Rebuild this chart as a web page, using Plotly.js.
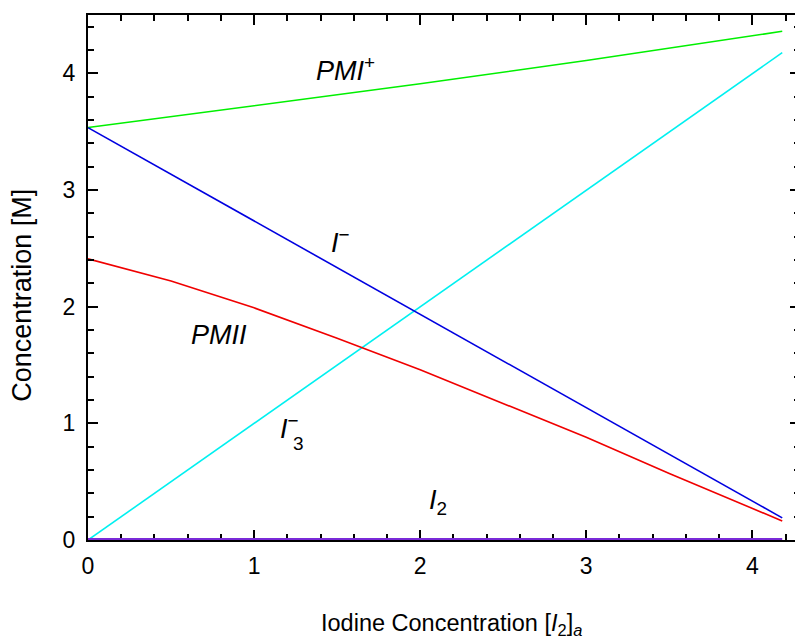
<!DOCTYPE html>
<html>
<head>
<meta charset="utf-8">
<script src="https://cdn.plot.ly/plotly-3.0.1.min.js"></script>
<style>
html,body{margin:0;padding:0;overflow:hidden;background:#fff;}
#chart{width:810px;height:639px;}
</style>
</head>
<body>
<div id="chart"></div>
<script>
// Data
const xLinear = [0, 1, 2, 3, 4, 4.18];
const xCurve = [0, 0.5, 1, 1.5, 2, 2.5, 3, 3.5, 4, 4.18];

const pmiPlusX = [0, 1, 2, 3, 4, 4.18];
const pmiPlusY = [3.535, 3.72, 3.91, 4.11, 4.32, 4.36];

const iodideY = [3.535, 2.735, 1.935, 1.135, 0.335, 0.19];
const triiodideY = [0, 1, 2, 3, 4, 4.177];
const pmiiY = [2.41, 2.22, 1.99, 1.73, 1.46, 1.17, 0.88, 0.57, 0.27, 0.163];
const iodineY = [0, 0, 0, 0, 0, 0];

const tickStart = 0;
const tickStep = 1;
const minorStep = 0.2;

const xTitle = 'Iodine Concentration [<i>I</i><sub>2</sub>]<sub><i>a</i></sub>';
const yTitle = 'Concentration [M]';

const FONT = 'Arial, "Liberation Sans", sans-serif';

const traces = [
  {x: pmiPlusX, y: pmiPlusY, mode: 'lines', line: {color: '#00f000', width: 1.6}, name: 'PMI+'},
  {x: xLinear, y: triiodideY, mode: 'lines', line: {color: '#00f0f0', width: 1.6}, name: 'I3-'},
  {x: xCurve, y: pmiiY, mode: 'lines', line: {color: '#f00000', width: 1.6}, name: 'PMII'},
  {x: xLinear, y: iodideY, mode: 'lines', line: {color: '#0000e0', width: 1.6}, name: 'I-'},
  {x: xLinear, y: iodineY, mode: 'lines', line: {color: '#7a2ad8', width: 4}, name: 'I2'}
];

const annFont = {family: FONT, size: 27, color: '#000'};
const subFont = {family: FONT, size: 19, color: '#000'};
const annotations = [
  {x: 1.55, y: 4.04, text: '<i>PMI</i><sup>+</sup>', showarrow: false, font: annFont},
  {x: 1.52, y: 2.56, text: '<i>I</i><sup>−</sup>', showarrow: false, font: annFont},
  {x: 0.79, y: 1.756, text: '<i>PMII</i>', showarrow: false, font: annFont},
  {x: 1.215, y: 0.965, text: '<i>I</i><sup>−</sup>', showarrow: false, font: annFont},
  {x: 1.265, y: 0.83, text: '3', showarrow: false, font: subFont},
  {x: 2.11, y: 0.33, text: '<i>I</i><sub>2</sub>', showarrow: false, font: annFont},
  {xref: 'paper', yref: 'paper', x: 0.511, y: -0.160, xanchor: 'center', yanchor: 'middle',
   text: xTitle, showarrow: false, font: {family: FONT, size: 23.5, color: '#000'}},
  {xref: 'paper', yref: 'paper', x: -0.0927, y: 0.467, xanchor: 'center', yanchor: 'middle',
   textangle: -90, text: yTitle, showarrow: false, font: {family: FONT, size: 27, color: '#000'}}
];

const axisCommon = {
  showgrid: false,
  zeroline: false,
  showline: true,
  linecolor: '#000',
  linewidth: 2,
  mirror: 'allticks',
  ticks: 'inside',
  ticklen: 10,
  tickwidth: 2,
  tickcolor: '#000',
  tickmode: 'linear',
  tick0: tickStart,
  dtick: tickStep,
  tickfont: {family: FONT, size: 23, color: '#000'},
  minor: {ticks: 'inside', ticklen: 6, tickwidth: 2, tickcolor: '#000', dtick: minorStep, showgrid: false}
};

const layout = {
  width: 810,
  height: 639,
  margin: {l: 88, r: 10, t: 15, b: 99},
  paper_bgcolor: '#fff',
  plot_bgcolor: '#fff',
  showlegend: false,
  font: {family: FONT, color: '#000'},
  xaxis: Object.assign({}, axisCommon, {
    range: [0, 4.287],
    layer: 'below traces',
    ticklabelstandoff: 4
  }),
  yaxis: Object.assign({}, axisCommon, {
    range: [0, 4.5],
    ticklabelstandoff: 6
  }),
  annotations: annotations
};

Plotly.newPlot('chart', traces, layout, {displayModeBar: false, staticPlot: true});
</script>
</body>
</html>
